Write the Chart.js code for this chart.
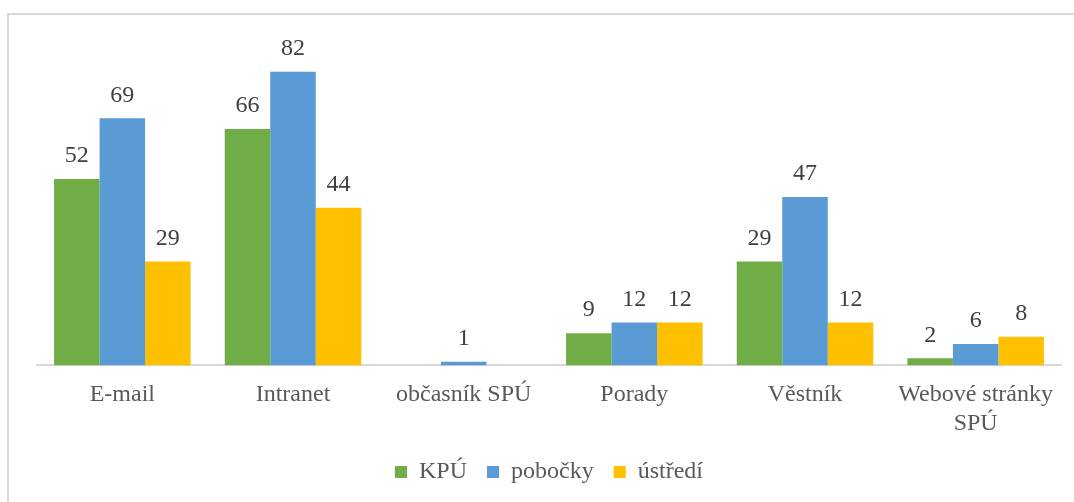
<!DOCTYPE html>
<html>
<head>
<meta charset="utf-8">
<script src="https://cdn.jsdelivr.net/npm/chart.js@4"></script>
<style>
    html, body { margin: 0; padding: 0; background: #fff; overflow: hidden; }
    #frame { position: absolute; left: 7px; top: 13px; width: 1100px; height: 520px; border: 2px solid #d9d9d9; box-sizing: border-box; }
    #wrap { position: absolute; left: 0; top: 0; width: 1074px; height: 502px; }
</style>
</head>
<body>
<div id="frame"></div>
<div id="wrap"><canvas id="chart"></canvas></div>
<script>
var categories = ['E-mail', 'Intranet', 'občasník SPÚ', 'Porady', 'Věstník', ['Webové stránky', 'SPÚ']]
var kpu = [52, 66, 0, 9, 29, 2]
var pobocky = [69, 82, 1, 12, 47, 6]
var ustredi = [29, 44, 0, 12, 12, 8]

var colors = {
    green: '#70AD47',
    blue: '#5B9BD5',
    yellow: '#FFC000'
}

// value labels above bars, zeros skipped
var barLabels = {
    id: 'barLabels',
    afterDatasetsDraw: function (chart) {
        var ctx = chart.ctx
        ctx.save()
        ctx.font = '24px "Liberation Serif", "Times New Roman", serif'
        ctx.fillStyle = '#404040'
        ctx.textAlign = 'center'
        ctx.textBaseline = 'middle'
        chart.data.datasets.forEach(function (ds, i) {
            chart.getDatasetMeta(i).data.forEach(function (bar, j) {
                if (!ds.data[j]) return
                ctx.fillText(ds.data[j], bar.x, bar.y - 23)
            })
        })
        ctx.restore()
    }
}

Chart.defaults.font.family = '"Liberation Serif", "Times New Roman", serif'
Chart.defaults.color = '#595959'

new Chart(document.getElementById('chart').getContext('2d'), {
    type: 'bar',
    data: {
        labels: categories,
        datasets: [{
            label: 'KPÚ',
            backgroundColor: colors.green,
            data: kpu
        }, {
            label: 'pobočky',
            backgroundColor: colors.blue,
            data: pobocky
        }, {
            label: 'ústředí',
            backgroundColor: colors.yellow,
            data: ustredi
        }]
    },
    plugins: [barLabels],
    options: {
        responsive: true,
        maintainAspectRatio: false,
        animation: false,
        layout: {
            padding: { left: 37, right: 13, top: 43, bottom: 8 }
        },
        datasets: {
            bar: {
                categoryPercentage: 0.8,
                barPercentage: 1
            }
        },
        plugins: {
            legend: {
                position: 'bottom',
                labels: {
                    boxWidth: 12,
                    boxHeight: 12,
                    padding: 20,
                    font: { size: 24 },
                    color: '#595959'
                }
            },
            tooltip: { enabled: false }
        },
        scales: {
            x: {
                grid: { display: false },
                border: { color: '#d9d9d9', width: 2 },
                ticks: {
                    font: { size: 24 },
                    color: '#595959',
                    padding: 7,
                    maxRotation: 0,
                    autoSkip: false
                },
                afterFit: function (scale) {
                    scale.height -= 5
                }
            },
            y: {
                display: false,
                min: 0,
                max: 90
            }
        }
    }
});
</script>
</body>
</html>
